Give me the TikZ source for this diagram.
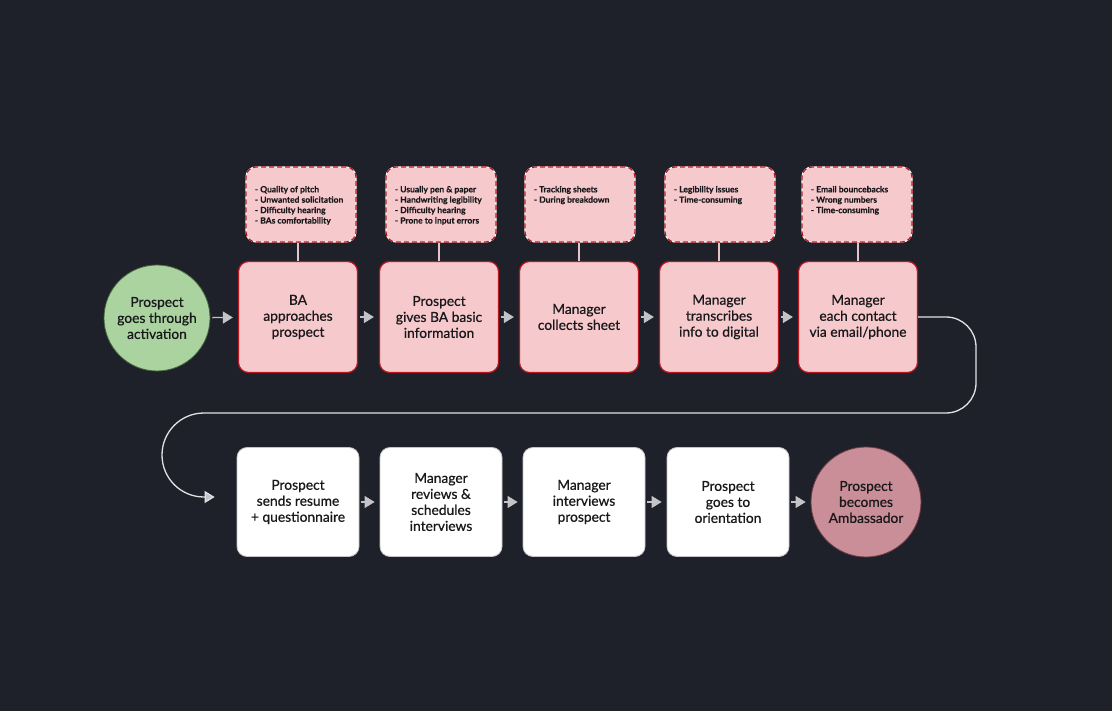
\documentclass[tikz,border=0pt]{standalone}
\usepackage{fontspec}
\setmainfont{Lato}
\newfontfamily\labelfont{Lato}[FakeBold=0.7]
\newfontfamily\notefont{Lato}[FakeBold=0.3]
\usetikzlibrary{arrows.meta}
\definecolor{bgdark}{RGB}{30,33,41}
\definecolor{stepfill}{RGB}{246,201,204}
\definecolor{stepline}{RGB}{185,22,32}
\definecolor{startfill}{RGB}{170,211,160}
\definecolor{startline}{RGB}{70,100,60}
\definecolor{endfill}{RGB}{201,142,152}
\definecolor{endline}{RGB}{110,60,68}
\definecolor{flowgray}{RGB}{196,196,200}
\definecolor{loopgray}{RGB}{226,226,230}
\definecolor{tiepink}{RGB}{228,196,198}
\definecolor{textdark}{RGB}{25,25,28}

\tikzset{
  stepbox/.style={draw=stepline, fill=stepfill, line width=1.2pt, rounded corners=10pt,
    minimum width=119pt, minimum height=111pt, align=center, text=textdark,
    font=\labelfont\fontsize{13.8}{16}\selectfont},
  taskbox/.style={stepbox, draw=flowgray, fill=white, minimum width=122pt,
    minimum height=109pt, line width=0.8pt},
  endpoint/.style={circle, line width=0.8pt, align=center, text=textdark,
    font=\labelfont\fontsize{13.8}{16}\selectfont},
  notebox/.style={draw=white!80!stepfill, line width=1.2pt, fill=stepfill, rounded corners=10pt,
    minimum width=110pt, minimum height=75pt, inner sep=0pt, text=textdark,
    font=\notefont\fontsize{8.5}{10.4}\selectfont\bfseries,
    postaction={draw=stepline, line width=1.2pt, dash pattern=on 5pt off 3pt}},
  tie/.style={draw=tiepink, line width=1.2pt},
  flow/.style={draw=flowgray, line width=1.3pt, -{Triangle[length=10pt,width=12pt,fill=flowgray]},
    shorten <=2pt, shorten >=5pt},
}

\newcommand{\notetext}[1]{\parbox[c][75pt][t]{92pt}{\vspace*{19pt}#1}}

\begin{document}
\begin{tikzpicture}[x=1pt,y=1pt]
    \fill[bgdark] (0,0) rectangle (1112,-711);

    \node[endpoint, fill=startfill, draw=startline, minimum size=106pt] (act) at (157,-318) {Prospect\\goes through\\activation};
    \node[stepbox] (s1) at (298,-317) {BA\\approaches\\prospect};
    \node[stepbox] (s2) at (439,-317) {Prospect\\gives BA basic\\information};
    \node[stepbox] (s3) at (579,-317) {Manager\\collects sheet};
    \node[stepbox] (s4) at (719,-317) {Manager\\transcribes\\info to digital};
    \node[stepbox] (s5) at (858,-317) {Manager\\each contact\\via email/phone};

    \node[notebox] (n1) at (301,-204.5) {\notetext{- Quality of pitch\\- Unwanted solicitation\\- Difficulty hearing\\- BAs comfortability}};
    \node[notebox] (n2) at (441,-204.5) {\notetext{- Usually pen \& paper\\- Handwriting legibility\\- Difficulty hearing\\- Prone to input errors}};
    \node[notebox] (n3) at (580,-204.5) {\notetext{- Tracking sheets\\- During breakdown}};
    \node[notebox] (n4) at (720,-204.5) {\notetext{- Legibility issues\\- Time-consuming}};
    \node[notebox] (n5) at (857,-204.5) {\notetext{- Email bouncebacks\\- Wrong numbers\\- Time-consuming}};

    \node[taskbox] (r1) at (298,-502) {Prospect\\sends resume\\+ questionnaire};
    \node[taskbox] (r2) at (441,-502) {Manager\\reviews \&\\schedules\\interviews};
    \node[taskbox] (r3) at (584,-502) {Manager\\interviews\\prospect};
    \node[taskbox] (r4) at (728,-502) {Prospect\\goes to\\orientation};
    \node[endpoint, fill=endfill, draw=endline, minimum size=110pt] (amb) at (866,-502) {Prospect\\becomes\\Ambassador};

    \draw[tie] (s1.north) -- (s1.north |- n1.south);
    \draw[tie] (s2.north) -- (s2.north |- n2.south);
    \draw[tie] (s3.north) -- (s3.north |- n3.south);
    \draw[tie] (s4.north) -- (s4.north |- n4.south);
    \draw[tie] (s5.north) -- (s5.north |- n5.south);

    \draw[flow] (act) -- (s1);
    \draw[flow] (s1) -- (s2);
    \draw[flow] (s2) -- (s3);
    \draw[flow] (s3) -- (s4);
    \draw[flow] (s4) -- (s5);

    \draw[flow, draw=loopgray, shorten <=0pt, shorten >=22pt] (s5.east) [rounded corners=30pt] -- (976,-317) -- (976,-413)
        [rounded corners=42pt] -- (162,-413) -- (162,-497) -- ([yshift=5pt]r1.west);

    \draw[flow] (r1) -- (r2);
    \draw[flow] (r2) -- (r3);
    \draw[flow] (r3) -- (r4);
    \draw[flow] (r4) -- (amb);
\end{tikzpicture}
\end{document}
